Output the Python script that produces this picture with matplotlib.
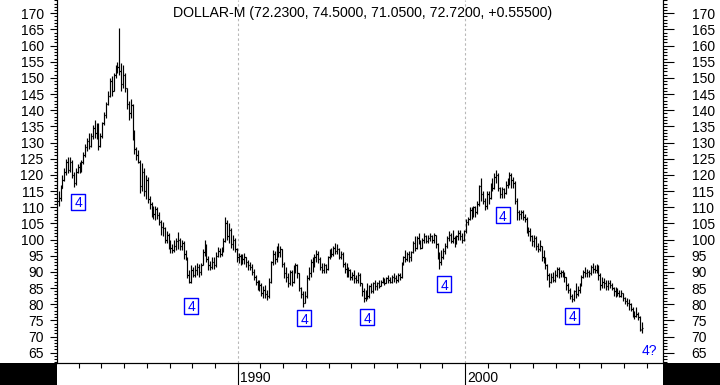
import numpy as np
import pandas as pd
import matplotlib
matplotlib.use("Agg")
import matplotlib.pyplot as plt
from matplotlib.collections import LineCollection
from matplotlib.ticker import MultipleLocator, FixedLocator, NullFormatter
from matplotlib.path import Path
from matplotlib.patches import Rectangle

plt.rcParams['font.family'] = ['Liberation Sans', 'DejaVu Sans']

# ---------------- data ----------------
title = "DOLLAR-M (72.2300, 74.5000, 71.0500, 72.7200, +0.55500)"
first_month = "1982-02-01"
first_open = 112.0
last_open = 72.23

closes = [
    113, 116, 118.5, 121, 124, 121.5, 124, 120, 117.5, 121,
    122.5, 121.5, 124, 126, 128.5, 130.5, 129, 132, 134.5, 133,
    135.5, 129, 132, 136, 138.5, 142, 144.5, 149, 146, 151,
    153, 153.5, 152, 148, 151, 147, 142, 139, 141.5, 133,
    128, 126, 124, 116.5, 121, 115, 118.5, 112.5, 111, 109.5,
    108, 109.5, 107.5, 105.5, 104, 103.5, 100, 101.5, 98, 97.5,
    96.8, 98, 99.5, 100, 98, 99, 95.5, 94, 89, 87,
    90.5, 89, 90.5, 91.5, 90, 92, 96, 98, 94, 92,
    91.5, 93, 92, 95, 96.5, 95.5, 97, 99.5, 105, 101,
    103, 98.5, 100, 97, 94.5, 95, 93.5, 94, 94.5, 93,
    92, 91.5, 90, 88.5, 87, 85.5, 86, 83.5, 84.5, 83,
    82.5, 87, 93, 95.5, 94, 97.5, 96, 97, 92.5, 89.5,
    88.5, 86.5, 90, 87, 91, 92, 89.5, 85, 83, 80.5,
    82.5, 88, 89.5, 93, 92, 94.5, 95.5, 94, 91.5, 90.5,
    92, 91, 94.5, 96, 95.5, 97.5, 96.5, 97, 94.5, 95.5,
    92.5, 91, 90, 90.5, 88.5, 89, 88, 87.5, 89, 86.5,
    84, 82, 83.5, 82.5, 85.5, 84, 86.5, 85.5, 86.5, 85.5,
    87, 87.5, 86.5, 88, 87.5, 87, 88.5, 88, 87.5, 89,
    88.5, 92.5, 94.5, 94, 95.5, 94.5, 96, 99, 97.5, 100.5,
    99.5, 97.5, 100, 101, 99.5, 100.5, 101, 100, 101.5, 98.5,
    95, 93, 94.5, 96.5, 98, 100.5, 101.5, 99.5, 100.5, 99,
    101, 102, 101, 100, 102.5, 105.5, 106.5, 109, 108, 110,
    108.5, 111, 116.5, 114, 112, 110.5, 114, 113, 117, 116,
    119.5, 120, 116, 114, 115.5, 114.5, 117, 118.5, 120, 118.5,
    117.5, 112, 108.5, 108, 108.5, 107, 106.5, 103, 102.5, 101,
    99.5, 100.5, 98, 97, 98, 94.5, 93.5, 92, 89, 87,
    88.5, 87.5, 89, 91, 89.5, 90, 89, 88.5, 86, 84.5,
    82.5, 81.5, 84, 83, 84.5, 86, 88.5, 90, 89.5, 90,
    89.5, 91.5, 91, 90.5, 91.5, 89, 86, 87, 86.5, 85.5,
    86.5, 86, 85, 84, 84.5, 83.5, 82.5, 83.5, 82, 81,
    80.5, 80, 78.5, 77.5, 76.5, 77, 76, 72.17, 72.72,
]

highs = [
    115, 117, 120, 122, 125, 125.6, 125.5, 124.5, 121, 122,
    123.5, 124, 124.5, 127, 129.5, 131.5, 133, 133, 135.5, 137,
    136, 136, 133, 136.5, 139.5, 142.5, 146, 150, 150.5, 151.5,
    154, 155, 165.4, 154.5, 154, 151.5, 147, 143, 143.5, 142,
    134, 128.6, 127.7, 124.5, 123.6, 122.1, 120, 119.5, 113.5, 111.5,
    110.5, 110.5, 110, 108.5, 106, 105.4, 104, 102.5, 102, 99.8,
    98.5, 99.8, 100.5, 102.4, 100.5, 100, 99.5, 96.8, 94.5, 90.5,
    92.1, 91.5, 92, 92.7, 92.5, 92.7, 97, 99.9, 98.5, 95,
    93.5, 94.6, 94.5, 96, 97.7, 97.5, 97.7, 100.5, 107.1, 106,
    105, 103.5, 101.5, 100.5, 97.5, 95.8, 95.5, 95.5, 95.8, 94.5,
    93.7, 93, 92.5, 91, 89, 87.5, 87.5, 86.5, 85.5, 86,
    84.5, 88, 93.5, 96.8, 96.5, 98, 98.9, 98, 97, 93,
    91.6, 89.5, 90.5, 90.5, 92, 92.7, 92.5, 89.5, 85.4, 84,
    84, 89, 91.5, 94, 94.6, 95.5, 96.8, 96.5, 94.5, 92.7,
    92.7, 92.5, 95, 97, 97.5, 98, 98.9, 98.5, 97.5, 96.5,
    96, 93, 92.7, 91.5, 91, 90, 90.6, 89, 90, 89.5,
    86.5, 85, 84.5, 86.5, 86, 86.5, 87, 87.5, 87, 87.5,
    87.5, 88.5, 88, 88.5, 89, 88.5, 89, 89.6, 89, 89.5,
    89.5, 93, 95, 96.8, 96, 96.5, 96.5, 99.5, 101, 101,
    102, 100, 100.5, 102, 101.5, 101.5, 102, 101.5, 102, 101.5,
    99, 96, 96.8, 97.5, 99, 101, 102.5, 102, 103, 101,
    101.5, 103, 103, 102, 103, 106.5, 107, 110, 110, 110.5,
    110.5, 112, 117, 119, 115, 113, 115, 115, 117.5, 119,
    120.5, 121.5, 120.5, 116.3, 116.3, 116, 118, 119, 121, 120.5,
    119.5, 118, 113, 109, 109, 109, 108, 107, 103.9, 103.5,
    101.5, 101.5, 101, 99, 100, 98, 96.8, 94.5, 92.5, 89.5,
    89.5, 90, 90.5, 91.6, 91.5, 90.6, 90.5, 90, 88.5, 86.5,
    85, 83, 84.5, 86.5, 85.5, 86.5, 89, 90.5, 91.6, 91,
    90.5, 92, 92.7, 92, 92.5, 92, 89.5, 88.4, 88, 87.5,
    87.5, 87.5, 86.5, 85.4, 85.4, 85, 84.5, 84.5, 83.5, 82.2,
    82, 81.5, 80.5, 79, 78, 79, 77.5, 76.5, 74.5,
]

lows = [
    110.5, 112, 116, 118, 120, 120.5, 121, 119, 116.4, 117,
    120.5, 120.5, 121, 123.5, 125.5, 127.5, 128, 128.5, 131, 131.5,
    131, 127.7, 128.5, 131.5, 135.5, 137.5, 141.5, 144, 144.5, 146,
    150, 151.5, 151, 146, 147, 145.5, 140.5, 137, 137.5, 130.8,
    126.5, 124.6, 123.6, 114.4, 115, 113.5, 112.5, 111.3, 109.5, 107,
    106.5, 106, 106.5, 104.5, 101.5, 101, 99, 99, 97, 95.8,
    95.8, 96, 96.8, 97, 96.8, 96.8, 94, 93.7, 88, 86.5,
    86.5, 88.4, 88.5, 89, 88.4, 89, 92, 95, 93, 90.6,
    90.6, 90.8, 91, 91.5, 94.6, 94.6, 94.8, 96, 99.3, 99.8,
    99, 97.5, 96.8, 96, 93, 92.7, 92, 92.5, 92.5, 91.5,
    90.6, 90.6, 89, 87.5, 86, 84.5, 84, 82.5, 82, 82,
    81.3, 82, 86.5, 92, 92.5, 93, 94.6, 94.6, 91.5, 88,
    87, 85.4, 86, 85.5, 86.5, 89.5, 88, 84, 82, 79.2,
    80.5, 82, 87.5, 88.4, 90, 91.5, 93, 92.7, 90.5, 89.5,
    89.5, 89.5, 90.5, 94, 94.6, 94.8, 95.5, 95.5, 94, 94,
    91.5, 89.5, 88.5, 88.5, 87.5, 87.5, 86.5, 86.5, 86.5, 85.5,
    82.5, 80.8, 81, 81.5, 82, 83.4, 83.5, 84.5, 84.5, 85,
    85.5, 86.5, 86, 86.5, 86.5, 86.5, 86.5, 87, 86.5, 87,
    87.5, 88, 92, 93, 93.5, 93, 93.5, 95.8, 96.5, 97,
    98.5, 97, 97.5, 99, 98.9, 99, 99.5, 99, 99, 97.5,
    94, 91, 92, 94, 95.5, 97.5, 99.5, 99, 99, 97.8,
    98.5, 100, 100, 99, 99.5, 102, 104.5, 106, 106.5, 107,
    107, 108, 110.5, 112, 111, 109, 109.5, 111, 112.5, 115,
    115.5, 117.5, 115, 112.8, 113, 113, 114, 116, 117, 116,
    116, 111, 106, 106, 106.5, 106, 105.5, 102, 101, 99.5,
    98, 97.7, 96.8, 96, 96.5, 93.5, 92.7, 91, 87.5, 85.4,
    86.5, 87, 87, 88.5, 88, 88.4, 88.4, 87, 84.5, 83.5,
    81.5, 80.8, 81, 82, 82.5, 83.5, 85.5, 88, 88.4, 88.5,
    88.4, 89, 89.6, 89.6, 89.6, 87.5, 84.4, 85, 85, 84.4,
    84.5, 85, 84.4, 82.5, 82.2, 82.5, 82.2, 82.2, 81, 80,
    79.5, 78.2, 78, 76, 75.5, 76, 75, 71.8, 71.05,
]

# wave-4 annotations (position in years / index value)
wave_x = [1982.98, 1987.95, 1992.92, 1995.69, 1999.09, 2001.66, 2004.73]
wave_y = [111.7, 79.45, 75.7, 75.9, 86.1, 107.45, 76.35]
wave_text = "4"
open_label = "4?"
open_label_x = 2008.13
open_label_y = 66.0

major_years = [1990, 2000]
major_labels = ["1990", "2000"]

# ---------------- derived series ----------------
months = pd.date_range(first_month, periods=len(closes), freq="MS")
t = months.year.values + (months.month.values - 0.5) / 12.0
c = np.array(closes, float)
h = np.array(highs, float)
l = np.array(lows, float)
o = np.concatenate([[first_open], c[:-1]])
o[-1] = last_open

# ---------------- figure ----------------
W, H = 720, 385
fig = plt.figure(figsize=(W / 100, H / 100), dpi=100)
fig.patch.set_facecolor("white")
ax = fig.add_axes([57 / W, 22.3 / H, (662.7 - 57) / W, 362.7 / H])
ax.set_facecolor("white")
ax.set_xlim(1982.05, 2008.70)
ax.set_ylim(61.9, 174.1)

for yr in major_years:
    ax.axvline(yr, color="#b8b8b8", lw=0.8, ls=(0, (2.2, 2.2)), zorder=1)

d = 0.055
segs = []
for ti, oi, hi, li, ci in zip(t, o, h, l, c):
    segs.append([(ti, li), (ti, hi)])
    segs.append([(ti - d, oi), (ti, oi)])
    segs.append([(ti, ci), (ti + d, ci)])
ax.add_collection(LineCollection(segs, colors="black", linewidths=0.85,
                                 capstyle="butt", zorder=3))

# wave labels with boxes
rect = Path([(-7, -8.5), (7, -8.5), (7, 8.5), (-7, 8.5), (-7, -8.5)],
            [Path.MOVETO, Path.LINETO, Path.LINETO, Path.LINETO, Path.CLOSEPOLY])
ax.plot(wave_x, wave_y, ls="none", marker=rect, markersize=12.2,
        mfc="white", mec="#0000ff", mew=1.0, zorder=4)
for wx, wy in zip(wave_x, wave_y):
    ax.text(wx, wy, wave_text, color="#0000ff", fontsize=10, ha="center",
            va="center_baseline", zorder=5)
ax.text(open_label_x, open_label_y, open_label, color="#0000ff", fontsize=10,
        ha="center", va="center_baseline", zorder=5)

ax.text(0.505, 1 - 16.7 / 362.7, title, transform=ax.transAxes,
        ha="center", va="baseline", fontsize=10.2, color="black")

# spines
ax.spines["top"].set_visible(False)
for s in ("left", "right", "bottom"):
    ax.spines[s].set_linewidth(0.8)
    ax.spines[s].set_color("black")

# y axis (left)
ax.yaxis.set_major_locator(MultipleLocator(5))
ax.yaxis.set_minor_locator(MultipleLocator(1))
ax.tick_params(axis="y", which="major", direction="out", length=5.3, width=0.8,
               pad=4.3, labelsize=10)
ax.tick_params(axis="y", which="minor", direction="out", length=2.5, width=0.8)

# y axis (right)
ax2 = ax.twinx()
ax2.set_ylim(ax.get_ylim())
ax2.spines["top"].set_visible(False)
ax2.spines["right"].set_linewidth(0.8)
ax2.yaxis.set_major_locator(MultipleLocator(5))
ax2.yaxis.set_minor_locator(MultipleLocator(1))
ax2.tick_params(axis="y", which="major", direction="out", length=7.6, width=0.8,
                pad=13.2, labelsize=10)
ax2.tick_params(axis="y", which="minor", direction="out", length=2.9, width=0.8)

# x axis
ax.xaxis.set_major_locator(FixedLocator(major_years))
ax.xaxis.set_major_formatter(NullFormatter())
ax.xaxis.set_minor_locator(MultipleLocator(1))
ax.tick_params(axis="x", which="major", direction="out", length=16.5, width=0.8)
ax.tick_params(axis="x", which="minor", direction="out", length=3.6, width=0.8)
for yr, lab in zip(major_years, major_labels):
    ax.annotate(lab, xy=(yr, 0), xycoords=("data", "axes fraction"),
                xytext=(1.7, -6.3), textcoords="offset points",
                ha="left", va="top", fontsize=10, annotation_clip=False)

# black corner blocks
fig.add_artist(Rectangle((0, 0), 57 / W, 22.3 / H, transform=fig.transFigure,
                         facecolor="black", edgecolor="none", zorder=10))
fig.add_artist(Rectangle((663 / W, 0), 1 - 663 / W, 22.3 / H,
                         transform=fig.transFigure, facecolor="black",
                         edgecolor="none", zorder=10))

fig.savefig("out.png", dpi=100, facecolor="white")
